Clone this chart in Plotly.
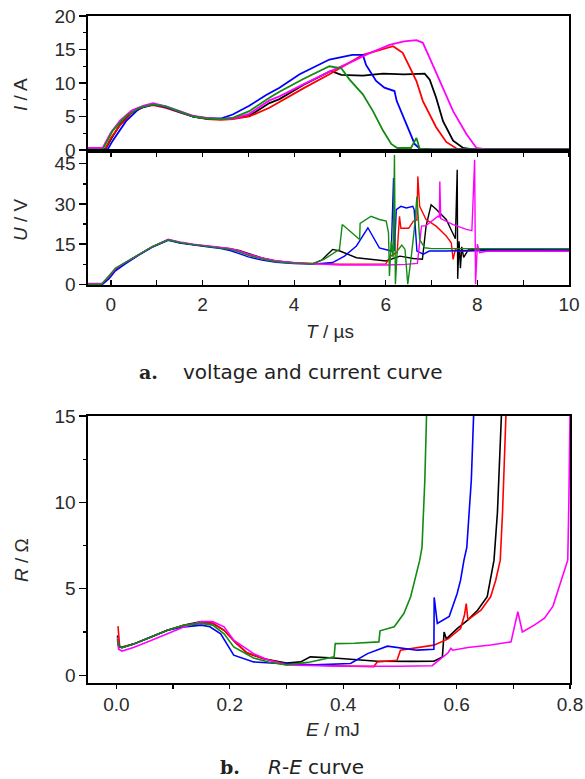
import plotly.graph_objects as go

W, H = 585, 779

# ---------------- data: current I (A) vs time T (us) ----------------
t_i_black = [-0.5, -0.12, 0.0, 0.2, 0.45, 0.7, 0.92, 1.2, 1.5, 1.8, 2.1, 2.4, 2.66, 3.02, 3.46, 3.68, 4.2, 4.8, 5.03, 5.5, 5.94, 6.4, 6.85, 6.96, 7.10, 7.25, 7.47, 7.69, 7.9, 10.0]
i_black = [0.1, 0.1, 1.6, 3.8, 5.6, 6.4, 6.8, 6.4, 5.7, 5.0, 4.7, 4.6, 4.7, 5.1, 7.0, 7.6, 9.7, 11.8, 11.2, 11.1, 11.4, 11.3, 11.4, 10.5, 7.8, 4.3, 1.4, 0.3, 0.1, 0.1]

t_i_red = [-0.5, -0.13, 0.0, 0.2, 0.45, 0.7, 0.92, 1.2, 1.5, 1.8, 2.1, 2.4, 2.66, 3.02, 3.46, 3.68, 4.2, 4.77, 5.5, 6.16, 6.37, 6.52, 6.67, 6.81, 7.10, 7.32, 7.55, 7.8, 10.0]
i_red = [0.1, 0.1, 1.8, 3.7, 5.5, 6.4, 6.7, 6.3, 5.6, 5.0, 4.6, 4.5, 4.6, 5.0, 6.3, 7.2, 9.2, 11.3, 14.2, 15.5, 14.5, 12.4, 10.3, 7.3, 3.4, 1.2, 0.2, 0.1, 0.1]

t_i_blue = [-0.5, -0.07, 0.04, 0.33, 0.62, 0.92, 1.2, 1.5, 1.8, 2.1, 2.4, 2.66, 3.02, 3.39, 3.68, 4.12, 4.77, 5.27, 5.5, 5.57, 5.79, 5.97, 6.19, 6.24, 6.45, 6.63, 6.74, 7.0, 10.0]
i_blue = [0.1, 0.1, 1.4, 4.3, 6.2, 6.8, 6.4, 5.7, 5.0, 4.7, 4.7, 5.3, 6.6, 8.2, 9.3, 11.3, 13.5, 14.2, 14.2, 12.7, 10.3, 9.3, 8.8, 7.3, 3.9, 0.9, 0.2, 0.1, 0.1]

t_i_magenta = [-0.5, -0.18, 0.0, 0.2, 0.45, 0.7, 0.92, 1.2, 1.5, 1.8, 2.1, 2.4, 2.66, 3.02, 3.46, 3.68, 4.2, 4.77, 5.3, 5.6, 6.08, 6.4, 6.67, 6.81, 6.96, 7.18, 7.47, 7.76, 7.98, 8.2, 10.0]
i_magenta = [0.3, 0.3, 2.6, 4.4, 5.9, 6.6, 7.0, 6.5, 5.8, 5.1, 4.8, 4.6, 4.7, 5.4, 7.4, 8.0, 9.8, 11.7, 13.3, 14.3, 15.7, 16.2, 16.4, 16.0, 13.7, 10.3, 5.8, 2.4, 0.3, 0.1, 0.1]

t_i_green = [-0.5, -0.18, 0.04, 0.33, 0.62, 0.92, 1.2, 1.5, 1.8, 2.1, 2.4, 2.66, 3.02, 3.46, 3.68, 4.2, 4.77, 5.03, 5.21, 5.50, 5.72, 5.94, 6.12, 6.25, 6.55, 6.67, 6.74, 7.0, 10.0]
i_green = [0.1, 0.1, 2.9, 5.1, 6.3, 6.8, 6.5, 5.8, 5.0, 4.7, 4.6, 4.8, 5.8, 7.8, 8.7, 10.6, 12.5, 12.2, 10.5, 8.3, 5.8, 2.9, 0.9, 0.3, 0.3, 1.8, 0.2, 0.1, 0.1]

# ---------------- data: voltage U (V) vs time T (us) ----------------
t_u_black = [-0.5, -0.2, -0.05, 0.1, 0.3, 0.6, 0.9, 1.25, 1.5, 1.8, 2.1, 2.4, 2.6, 2.8, 3.0, 3.3, 3.6, 4.0, 4.4, 4.6, 4.84, 5.0, 5.36, 5.65, 6.01, 6.31, 6.6, 6.8, 6.88, 6.99, 7.1, 7.32, 7.47, 7.52, 7.56, 7.57, 7.6, 7.63, 7.66, 7.7, 7.8, 8.5, 10.0]
u_black = [0, 0, 2.5, 5.5, 7.8, 11.0, 14.0, 16.6, 15.6, 14.8, 14.2, 13.6, 13.3, 12.6, 11.4, 9.8, 8.7, 8.0, 7.6, 9.0, 13.0, 12.4, 9.9, 9.4, 8.7, 10.5, 9.6, 9.3, 21.7, 29.7, 28.0, 24.2, 19.2, 17.0, 42.8, 2.0, 16.0, 6.0, 14.0, 10.0, 12.8, 13.0, 12.8]

t_u_red = [-0.5, -0.2, -0.05, 0.1, 0.3, 0.6, 0.9, 1.25, 1.5, 1.8, 2.1, 2.4, 2.6, 2.8, 3.0, 3.3, 3.6, 4.0, 4.5, 5.0, 5.5, 6.0, 6.11, 6.25, 6.30, 6.33, 6.5, 6.6, 6.68, 6.70, 6.74, 6.88, 7.10, 7.32, 7.43, 7.47, 7.52, 7.6, 8.0, 10.0]
u_red = [0, 0, 2.5, 5.5, 7.8, 11.0, 14.0, 16.6, 15.6, 14.8, 14.2, 13.6, 13.2, 12.4, 11.2, 9.7, 8.6, 7.9, 7.6, 7.5, 7.5, 7.6, 10.5, 12.0, 25.4, 20.9, 20.9, 23.5, 24.0, 40.3, 29.1, 24.2, 21.7, 18.0, 15.5, 9.3, 13.0, 12.3, 12.5, 12.5]

t_u_blue = [-0.5, -0.18, -0.04, 0.1, 0.3, 0.6, 0.9, 1.25, 1.5, 1.8, 2.1, 2.4, 2.6, 2.8, 3.0, 3.3, 3.6, 4.0, 4.4, 4.84, 5.1, 5.36, 5.61, 5.86, 6.12, 6.17, 6.19, 6.23, 6.33, 6.45, 6.59, 6.62, 6.68, 6.82, 6.95, 7.3, 7.8, 8.5, 10.0]
u_blue = [0, 0, 2.0, 5.0, 7.4, 10.8, 13.8, 16.4, 15.4, 14.6, 14.0, 13.3, 12.6, 11.4, 10.2, 9.0, 8.2, 7.7, 7.5, 8.1, 10.5, 14.3, 21.1, 13.6, 12.4, 39.7, 12.4, 27.9, 29.1, 28.5, 29.1, 27.9, 12.4, 11.2, 12.4, 12.4, 12.6, 12.8, 12.8]

t_u_magenta = [-0.5, -0.2, -0.05, 0.1, 0.3, 0.6, 0.9, 1.25, 1.5, 1.8, 2.1, 2.4, 2.6, 2.8, 3.0, 3.3, 3.6, 4.0, 5.0, 6.0, 6.44, 6.69, 6.78, 6.88, 7.14, 7.17, 7.18, 7.20, 7.47, 7.76, 7.88, 7.94, 7.96, 8.0, 8.05, 8.2, 10.0]
u_magenta = [0.3, 0.3, 2.8, 5.8, 8.0, 11.0, 14.0, 16.8, 15.8, 15.0, 14.4, 13.8, 13.4, 12.4, 11.2, 9.8, 8.8, 8.0, 7.2, 7.2, 7.4, 7.8, 21.7, 21.9, 25.4, 25.0, 38.4, 24.5, 22.3, 20.5, 20.0, 46.5, 0.0, 15.0, 11.8, 12.3, 12.3]

t_u_green = [-0.5, -0.2, -0.05, 0.1, 0.3, 0.6, 0.9, 1.25, 1.5, 1.8, 2.1, 2.4, 2.6, 2.8, 3.0, 3.3, 3.6, 4.0, 4.4, 4.65, 4.99, 5.05, 5.21, 5.43, 5.44, 5.68, 5.86, 6.01, 6.06, 6.08, 6.12, 6.16, 6.19, 6.21, 6.25, 6.35, 6.42, 6.48, 6.55, 6.62, 6.68, 6.74, 6.85, 7.0, 8.0, 10.0]
u_green = [0, 0, 3.0, 6.0, 8.0, 11.0, 14.0, 16.6, 15.6, 14.8, 14.2, 13.6, 13.0, 12.0, 10.8, 9.4, 8.4, 7.8, 7.6, 9.3, 13.0, 22.3, 19.8, 16.7, 22.7, 25.4, 24.2, 23.6, 19.2, 3.1, 16.0, 10.0, 48.3, 0.0, 12.4, 14.6, 13.0, 0.0, 9.3, 20.0, 32.8, 16.7, 13.6, 13.3, 13.3, 13.3]

# ---------------- data: resistance R (ohm) vs energy E (mJ) ----------------
e_black = [0.002, 0.004, 0.01, 0.03, 0.06, 0.09, 0.12, 0.15, 0.17, 0.19, 0.21, 0.23, 0.26, 0.30, 0.325, 0.342, 0.384, 0.42, 0.46, 0.52, 0.56, 0.575, 0.578, 0.582, 0.601, 0.62, 0.637, 0.654, 0.66, 0.666, 0.672, 0.679]
r_black = [2.3, 1.7, 1.6, 1.8, 2.2, 2.6, 2.9, 3.1, 3.0, 2.6, 1.9, 1.3, 0.95, 0.7, 0.77, 1.06, 1.0, 0.9, 0.81, 0.8, 0.81, 1.06, 2.5, 2.1, 2.7, 3.2, 3.76, 4.54, 5.5, 6.66, 9.4, 15.0]

e_red = [0.002, 0.003, 0.006, 0.03, 0.06, 0.09, 0.12, 0.15, 0.17, 0.19, 0.21, 0.23, 0.26, 0.30, 0.38, 0.454, 0.460, 0.495, 0.501, 0.53, 0.56, 0.585, 0.607, 0.614, 0.617, 0.62, 0.643, 0.660, 0.669, 0.677, 0.681, 0.687]
r_red = [2.8, 2.8, 1.6, 1.8, 2.2, 2.6, 2.9, 3.0, 3.0, 2.6, 1.9, 1.3, 0.95, 0.65, 0.55, 0.5, 0.77, 0.87, 1.45, 1.6, 1.74, 2.1, 2.7, 3.5, 4.15, 3.2, 3.76, 4.54, 5.5, 6.66, 9.4, 15.0]

e_blue = [0.002, 0.004, 0.01, 0.03, 0.06, 0.09, 0.12, 0.15, 0.165, 0.184, 0.207, 0.242, 0.295, 0.35, 0.413, 0.443, 0.478, 0.50, 0.53, 0.5600, 0.5605, 0.566, 0.587, 0.601, 0.607, 0.613, 0.618, 0.626, 0.630]
r_blue = [2.0, 1.7, 1.6, 1.8, 2.2, 2.6, 2.8, 2.9, 2.8, 2.4, 1.16, 0.77, 0.67, 0.6, 0.68, 1.25, 1.68, 1.6, 1.45, 1.5, 4.5, 3.0, 3.4, 4.73, 5.5, 6.66, 7.4, 11.3, 15.0]

e_magenta = [0.002, 0.004, 0.01, 0.03, 0.06, 0.09, 0.12, 0.15, 0.17, 0.19, 0.207, 0.242, 0.27, 0.30, 0.40, 0.50, 0.557, 0.585, 0.590, 0.593, 0.62, 0.66, 0.696, 0.708, 0.716, 0.737, 0.755, 0.77, 0.787, 0.796, 0.798, 0.800]
r_magenta = [2.2, 1.5, 1.4, 1.6, 2.0, 2.4, 2.8, 3.1, 3.1, 2.8, 2.03, 1.25, 0.85, 0.6, 0.52, 0.52, 0.55, 1.3, 1.56, 1.45, 1.6, 1.75, 1.93, 3.67, 2.5, 2.9, 3.3, 4.0, 5.69, 6.66, 10.0, 15.0]

e_green = [0.002, 0.004, 0.01, 0.03, 0.06, 0.09, 0.12, 0.15, 0.17, 0.19, 0.207, 0.242, 0.27, 0.30, 0.342, 0.384, 0.386, 0.42, 0.463, 0.465, 0.490, 0.507, 0.519, 0.528, 0.535, 0.539, 0.544, 0.547]
r_green = [2.1, 1.7, 1.6, 1.8, 2.2, 2.6, 2.9, 3.0, 2.9, 2.4, 1.64, 1.0, 0.75, 0.6, 0.77, 1.06, 1.83, 1.85, 1.93, 2.57, 2.8, 3.57, 4.54, 5.69, 6.66, 7.4, 11.3, 15.0]

# axis titles / captions
i_title = "<i>I</i> / A"
u_title = "<i>U</i> / V"
t_title = "<i>T</i> / \u00b5s"
r_title = "<i>R</i> / \u03a9"
e_title = "<i>E</i> / mJ"
cap_a_tag, cap_a_text = "<b>a.</b>", "voltage and current curve"
cap_b_tag, cap_b_text = "<b>b.</b>", "<i>R</i>-<i>E</i> curve"

colors = {"black": "#000000", "red": "#ff0000", "blue": "#0000ff", "magenta": "#ff00ff", "green": "#138a13"}

fig = go.Figure()

series_i = [("black", t_i_black, i_black), ("red", t_i_red, i_red), ("blue", t_i_blue, i_blue),
            ("magenta", t_i_magenta, i_magenta), ("green", t_i_green, i_green)]
series_u = [("black", t_u_black, u_black), ("red", t_u_red, u_red), ("blue", t_u_blue, u_blue),
            ("magenta", t_u_magenta, u_magenta), ("green", t_u_green, u_green)]
series_r = [("black", e_black, r_black), ("red", e_red, r_red), ("blue", e_blue, r_blue),
            ("magenta", e_magenta, r_magenta), ("green", e_green, r_green)]

for name, xs, ys in series_i:
    fig.add_trace(go.Scatter(x=xs, y=ys, mode="lines", line=dict(color=colors[name], width=1.8),
                             xaxis="x", yaxis="y", showlegend=False))
for name, xs, ys in series_u:
    fig.add_trace(go.Scatter(x=xs, y=ys, mode="lines", line=dict(color=colors[name], width=1.4),
                             xaxis="x2", yaxis="y2", showlegend=False))
for name, xs, ys in series_r:
    fig.add_trace(go.Scatter(x=xs, y=ys, mode="lines", line=dict(color=colors[name], width=1.6),
                             xaxis="x3", yaxis="y3", showlegend=False))


def dom_x(a, b):
    return [a / W, b / W]


def dom_y(top, bottom):
    return [1 - bottom / H, 1 - top / H]


tickfont = dict(family="'Liberation Sans', Arial, sans-serif", size=19, color="#2a2a2a")
common = dict(showline=True, linecolor="black", linewidth=1.6, mirror=True, showgrid=False,
              zeroline=False, tickcolor="black", tickwidth=1.2, automargin=False,
              ticklabeloverflow="allow", tickfont=tickfont)

fig.update_layout(
    width=W, height=H, margin=dict(l=0, r=0, t=0, b=0, pad=0, autoexpand=False),
    plot_bgcolor="white", paper_bgcolor="white", showlegend=False,
    font=dict(family="'Liberation Sans', Arial, sans-serif", size=19, color="#2a2a2a"),
    xaxis=dict(common, domain=dom_x(88, 569), anchor="y", range=[-0.5, 10], tick0=0, dtick=2,
               ticks="outside", ticklen=4, showticklabels=False,
               minor=dict(tick0=0, dtick=1, ticks="outside", ticklen=4, tickcolor="black")),
    yaxis=dict(common, domain=dom_y(16, 151), anchor="x", range=[-0.15, 20], tick0=0, dtick=5,
               ticks="outside", ticklen=7,
               minor=dict(tick0=0, dtick=2.5, ticks="outside", ticklen=3, tickcolor="black")),
    xaxis2=dict(common, domain=dom_x(88, 569), anchor="y2", range=[-0.5, 10], tick0=0, dtick=2,
                ticks="inside", ticklen=5, ticklabelstandoff=2,
                minor=dict(tick0=0, dtick=1, ticks="inside", ticklen=5, tickcolor="black")),
    yaxis2=dict(common, domain=dom_y(151, 285), anchor="x2", range=[-0.3, 49.8], tick0=0, dtick=15,
                ticks="outside", ticklen=7,
                minor=dict(tick0=0, dtick=7.5, ticks="outside", ticklen=3, tickcolor="black")),
    xaxis3=dict(common, domain=dom_x(88, 570), anchor="y3", range=[-0.05, 0.8], tick0=0, dtick=0.2,
                tickformat=".1f", ticks="outside", ticklen=4, ticklabelstandoff=0,
                minor=dict(tick0=0, dtick=0.1, ticks="outside", ticklen=4, tickcolor="black")),
    yaxis3=dict(common, domain=dom_y(416, 683), anchor="x3", range=[-0.45, 15], tick0=0, dtick=5,
                ticks="outside", ticklen=7,
                minor=dict(tick0=0, dtick=2.5, ticks="outside", ticklen=3, tickcolor="black")),
)

tfont = dict(family="'Liberation Sans', Arial, sans-serif", size=19, color="#2a2a2a")
cfont = dict(family="'DejaVu Sans', sans-serif", size=20, color="#222222")
bfont = dict(family="'DejaVu Serif', serif", size=19, color="#222222")


def ann(text, x, y, font, xanchor="center", angle=0):
    fig.add_annotation(text=text, x=x / W, y=1 - y / H, xref="paper", yref="paper",
                       showarrow=False, font=font, xanchor=xanchor, yanchor="middle",
                       textangle=angle)


ann(i_title, 20, 95, tfont, angle=-90)
ann(u_title, 21, 220, tfont, angle=-90)
ann(t_title, 330, 331, tfont)
ann(r_title, 21, 560, tfont, angle=-90)
ann(e_title, 333, 729, tfont)
ann(cap_a_tag, 148, 372, bfont)
ann(cap_a_text, 181, 372, cfont, xanchor="left")
ann(cap_b_tag, 230, 767, bfont)
ann(cap_b_text, 266, 767, cfont, xanchor="left")

page_fix = ("document.documentElement.style.margin='0';document.documentElement.style.overflow='hidden';"
            "document.body.style.margin='0';document.body.style.padding='0';document.body.style.overflow='hidden';")

fig.write_html("out.html", post_script=page_fix, config={"displayModeBar": False, "staticPlot": True})
